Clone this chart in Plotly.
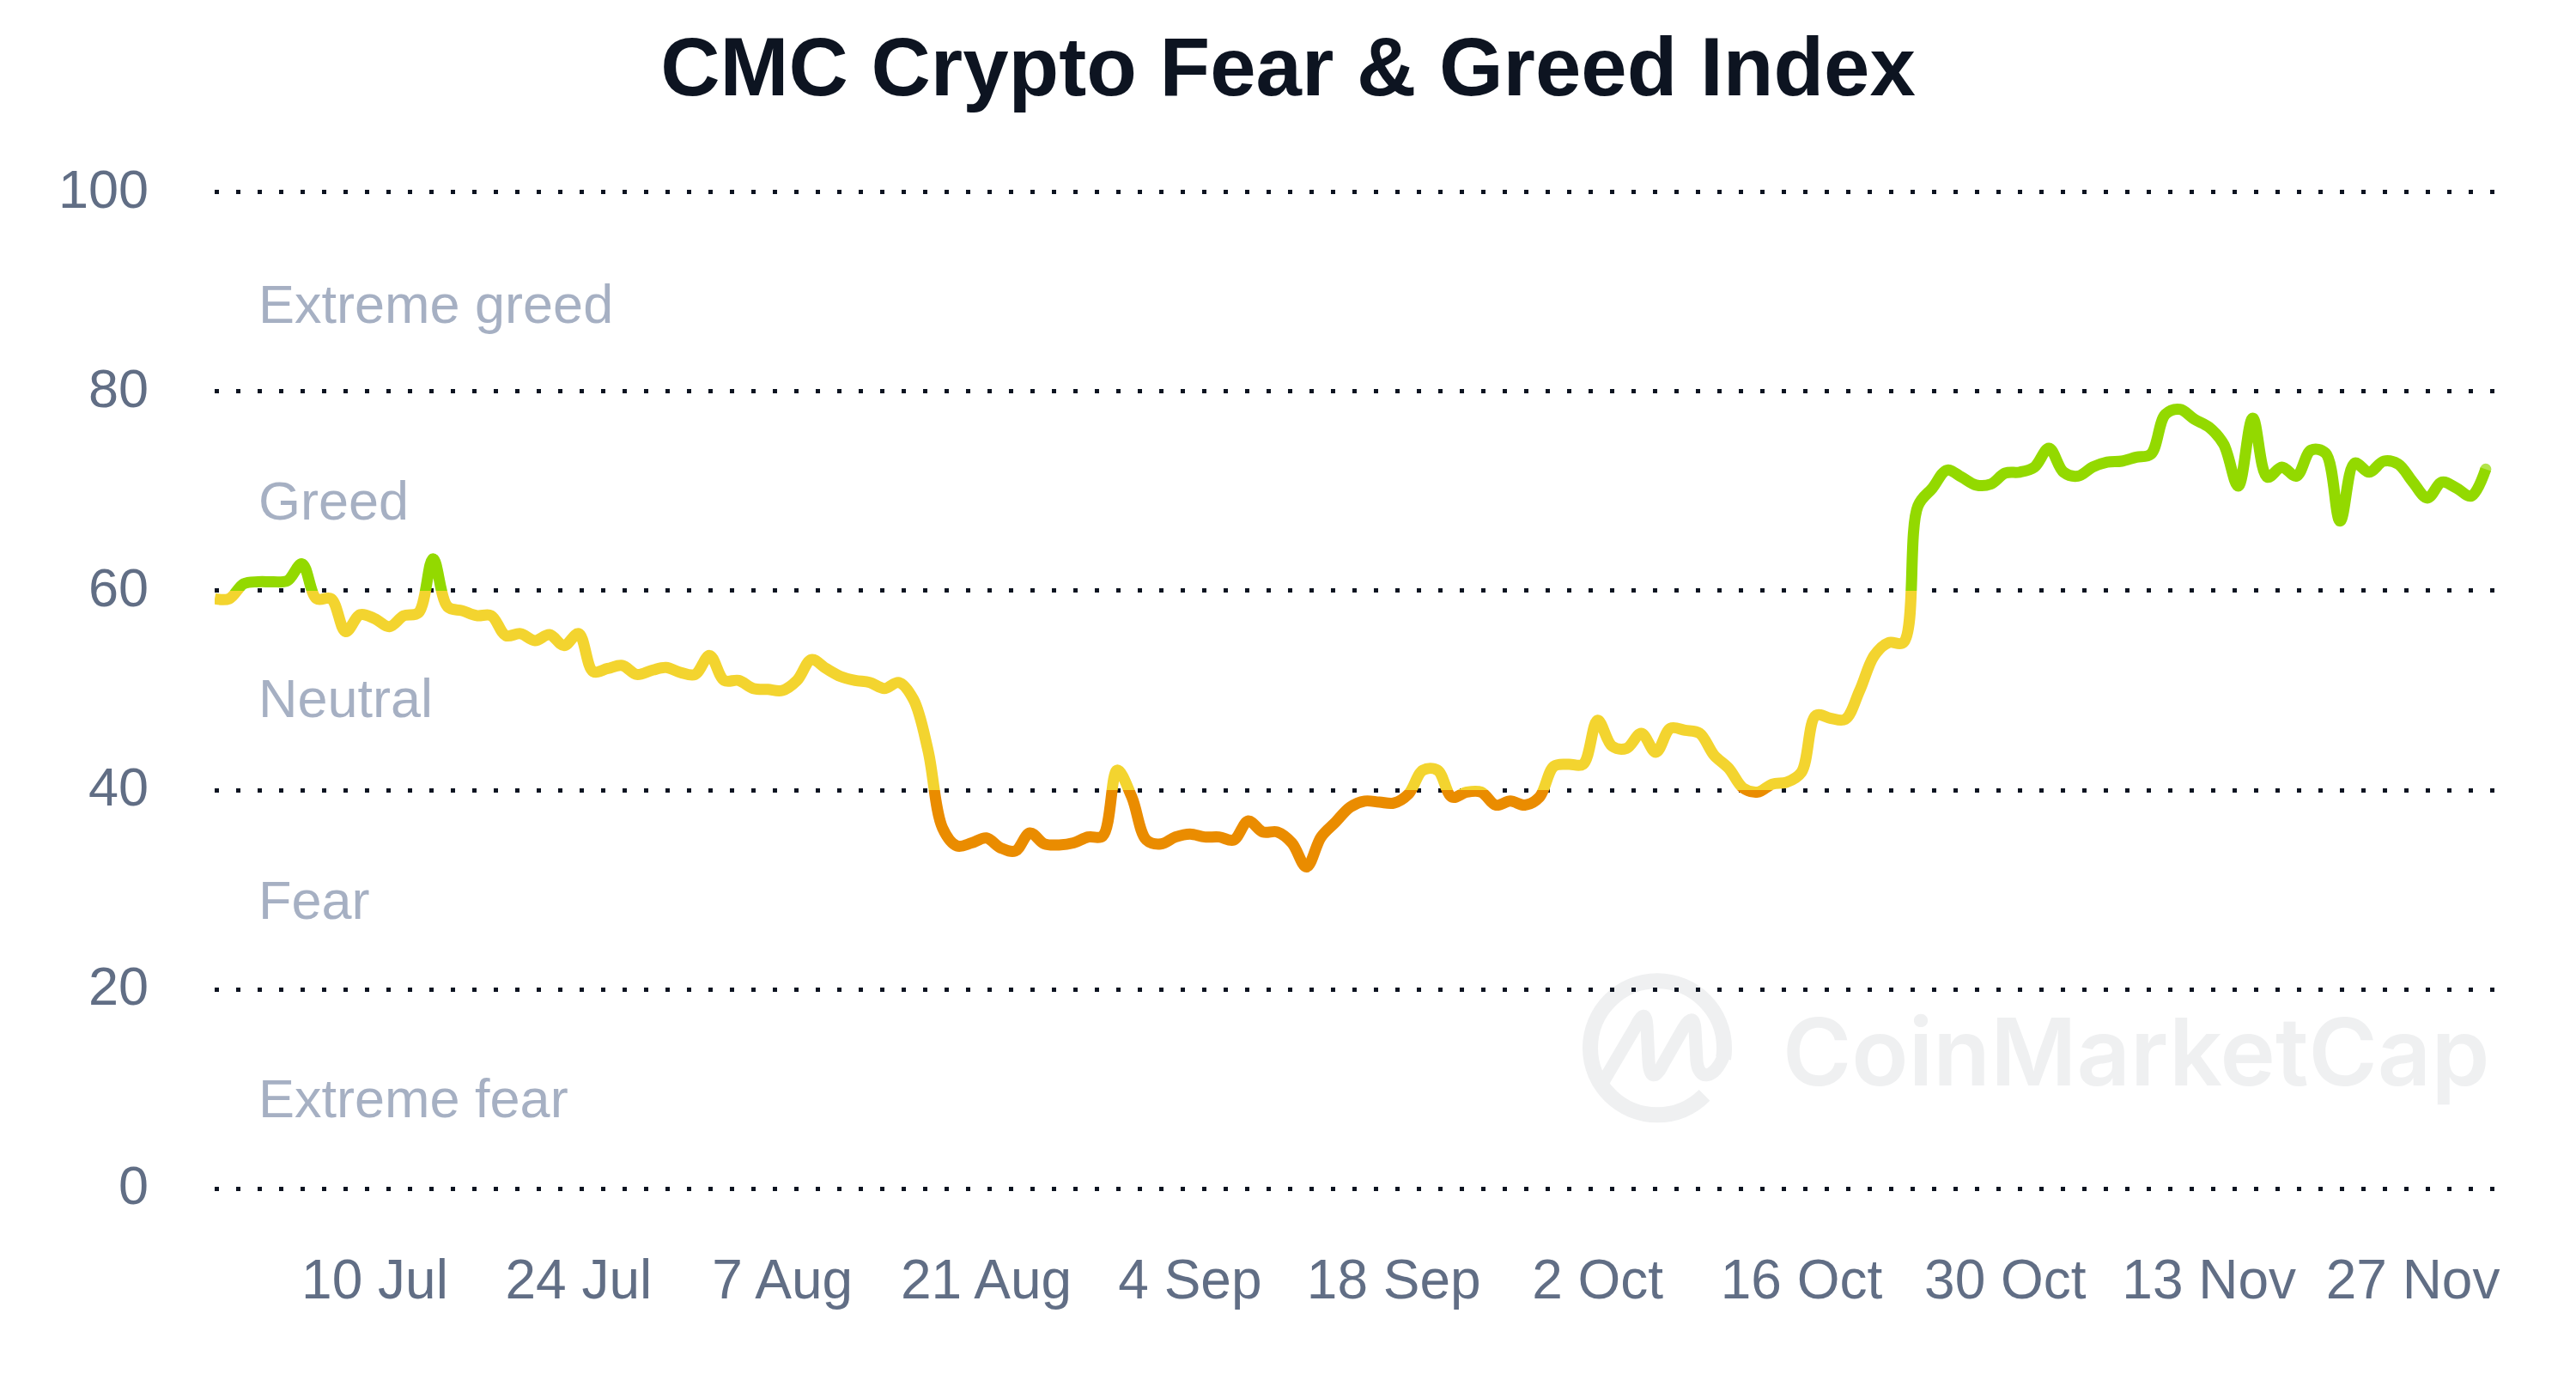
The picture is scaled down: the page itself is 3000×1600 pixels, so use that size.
import re
import pandas as pd
import plotly.graph_objects as go

start_date = "2023-06-29"
index_values = [
    59.2, 59.2, 60.7, 60.9, 60.9, 61.0, 62.7, 59.2, 59.2, 55.9,
    57.6, 57.2, 56.4, 57.5, 57.8, 63.2, 58.4, 58.0, 57.5, 57.5,
    55.5, 55.7, 55.0, 55.6, 54.5, 55.7, 51.9, 52.2, 52.5, 51.6,
    52.0, 52.3, 51.8, 51.6, 53.5, 51.0, 51.0, 50.2, 50.1, 50.0,
    51.0, 53.1, 52.2, 51.4, 51.0, 50.8, 50.2, 50.8, 49.1, 44.0,
    36.2, 34.4, 34.7, 35.2, 34.2, 33.9, 35.7, 34.6, 34.5, 34.7,
    35.3, 35.4, 42.0, 39.3, 35.0, 34.6, 35.3, 35.6, 35.3, 35.3,
    35.0, 36.9, 35.8, 35.8, 34.7, 32.3, 35.3, 36.8, 38.3, 38.9,
    38.8, 38.7, 39.6, 42.0, 42.0, 39.3, 39.8, 39.8, 38.5, 38.9,
    38.5, 39.3, 42.4, 42.6, 42.6, 47.0, 44.4, 44.2, 45.7, 43.8,
    46.2, 46.0, 45.7, 43.5, 42.2, 40.2, 39.8, 40.6, 40.8, 41.8,
    47.5, 47.2, 47.1, 50.0, 53.5, 54.8, 54.8, 68.5, 70.3, 72.1,
    71.4, 70.6, 70.7, 71.8, 71.9, 72.4, 74.3, 71.9, 71.5, 72.4,
    72.9, 73.0, 73.4, 73.7, 77.7, 78.2, 77.2, 76.4, 74.7, 70.5,
    77.3, 71.4, 72.4, 71.5, 74.1, 73.8, 67.0, 72.8, 71.9, 73.0,
    72.7, 70.9, 69.3, 70.9, 70.3, 69.5, 72.2,
]
dates = pd.date_range(start_date, periods=len(index_values), freq="D")

y_ticks = [0, 20, 40, 60, 80, 100]
tick_dates = ["2023-07-10", "2023-07-24", "2023-08-07", "2023-08-21", "2023-09-04", "2023-09-18",
              "2023-10-02", "2023-10-16", "2023-10-30", "2023-11-13", "2023-11-27"]
tick_labels = ["10 Jul", "24 Jul", "7 Aug", "21 Aug", "4 Sep", "18 Sep",
               "2 Oct", "16 Oct", "30 Oct", "13 Nov", "27 Nov"]
band_labels = ["Extreme greed", "Greed", "Neutral", "Fear", "Extreme fear"]
band_label_levels = [88.8, 69.0, 49.2, 29.0, 9.1]

GREEN = "#93D900"
YELLOW = "#F3D42F"
ORANGE = "#EA8C00"
TICK_COLOR = "#616E85"
DARK = "#0D1421"
WATERMARK = "#EFF0F1"
FONT = "Liberation Sans"

# the grid axis is padded by one unit, plotly drops gridlines sitting right on the axis ends
Y_LOW, Y_HIGH = -1, 101
SPAN = Y_HIGH - Y_LOW
PLOT_LEFT, PLOT_WIDTH = 250, 2655
PLOT_BOTTOM, PLOT_HEIGHT = 1395.6, 1183.2


def frac(value):
    return (value - Y_LOW) / SPAN


def logo_path(text):
    # watermark outline given in picture pixels, shapes want paper coordinates
    numbers = iter(re.findall(r"[A-Z]|-?\d+\.?\d*", text))
    out = []
    for token in numbers:
        if token.isalpha():
            out.append(token)
        else:
            x = (float(token) - PLOT_LEFT) / PLOT_WIDTH
            y = (PLOT_BOTTOM - float(next(numbers))) / PLOT_HEIGHT
            out.append(f"{x:.5f},{y:.5f}")
    return " ".join(out)


fig = go.Figure()

# empty trace so the grid axis gets drawn first, under the line
fig.add_trace(go.Scatter(x=dates[:1], y=[None], xaxis="x", yaxis="y", showlegend=False, hoverinfo="skip"))

# same line three times, each y axis only covers one colour band and clips it
bands = [("y2", GREEN), ("y3", YELLOW), ("y4", ORANGE)]
for axis, color in bands:
    is_top = axis == "y2"
    fig.add_trace(
        go.Scatter(
            x=dates,
            y=index_values,
            xaxis="x",
            yaxis=axis,
            mode="lines+markers" if is_top else "lines",
            line=dict(color=color, width=13, shape="spline", smoothing=1.0),
            marker=dict(color=color, size=[0] * (len(index_values) - 1) + [13], line_width=0),
            showlegend=False,
            hoverinfo="skip",
        )
    )

hidden = dict(anchor="x", showgrid=False, showticklabels=False, zeroline=False, showline=False, ticks="")

for label, level in zip(band_labels, band_label_levels):
    fig.add_annotation(
        text=label, xref="paper", yref="paper", x=0.0185, y=frac(level),
        xanchor="left", yanchor="middle", showarrow=False,
        font=dict(family=FONT, size=63, color="#A6B0C3"),
    )

fig.add_annotation(
    text="CoinMarketCap", xref="paper", yref="paper", x=0.687, y=frac(13.8),
    xanchor="left", yanchor="middle", showarrow=False,
    font=dict(family="Inter", size=109, color=WATERMARK, weight=600),
)
ring = ("M 1985 1275 C 1970 1290 1951 1298 1930 1298 C 1887 1298 1852 1263 1852 1220 "
        "C 1852 1177 1887 1142 1930 1142 C 1973 1142 2008 1177 2008 1220 C 2008 1225 2008 1228 2007 1232")
wave = ("M 1865 1263 L 1905 1195 C 1912 1180 1917 1178 1918 1195 L 1920 1235 C 1921 1256 1928 1256 1936 1240 "
        "L 1960 1198 C 1968 1184 1973 1184 1974 1198 L 1976 1235 C 1978 1258 1996 1258 2008 1228")
for path, stroke in [(ring, 18), (wave, 15)]:
    fig.add_shape(
        type="path", path=logo_path(path), xref="paper", yref="paper",
        line=dict(color=WATERMARK, width=stroke), fillcolor="rgba(0,0,0,0)", layer="below",
    )

fig.update_layout(
    width=3000,
    height=1600,
    margin=dict(l=PLOT_LEFT, r=3000 - PLOT_LEFT - PLOT_WIDTH, t=PLOT_BOTTOM - PLOT_HEIGHT, b=1600 - PLOT_BOTTOM, pad=0),
    paper_bgcolor="white",
    plot_bgcolor="rgba(0,0,0,0)",
    title=dict(
        text="<b>CMC Crypto Fear &amp; Greed Index</b>",
        x=0.5, xref="container", xanchor="center",
        y=1 - 77 / 1600, yref="container", yanchor="middle",
        font=dict(family=FONT, size=96, color=DARK),
    ),
    xaxis=dict(
        range=["2023-06-29", "2023-12-02 14:24"],
        anchor="y",
        tickmode="array",
        tickvals=tick_dates,
        ticktext=tick_labels,
        showgrid=False,
        zeroline=False,
        showline=False,
        ticks="",
        tickangle=0,
        ticklabelstandoff=51,
        tickfont=dict(family=FONT, size=64, color=TICK_COLOR),
    ),
    yaxis=dict(
        range=[Y_LOW, Y_HIGH],
        anchor="x",
        tickmode="array",
        tickvals=y_ticks,
        showgrid=True,
        griddash="5px,20px",
        gridcolor=DARK,
        gridwidth=5,
        zeroline=False,
        showline=False,
        ticks="",
        ticklabelstandoff=76,
        ticklabelshift=-4,
        tickfont=dict(family=FONT, size=63, color=TICK_COLOR),
    ),
    yaxis2=dict(domain=[frac(60), 1], range=[60, Y_HIGH], **hidden),
    yaxis3=dict(domain=[frac(40), frac(60)], range=[40, 60], **hidden),
    yaxis4=dict(domain=[0, frac(40)], range=[Y_LOW, 40], **hidden),
)

fig.write_html("out.html", config=dict(displayModeBar=False), post_script="document.body.style.margin='0';")
